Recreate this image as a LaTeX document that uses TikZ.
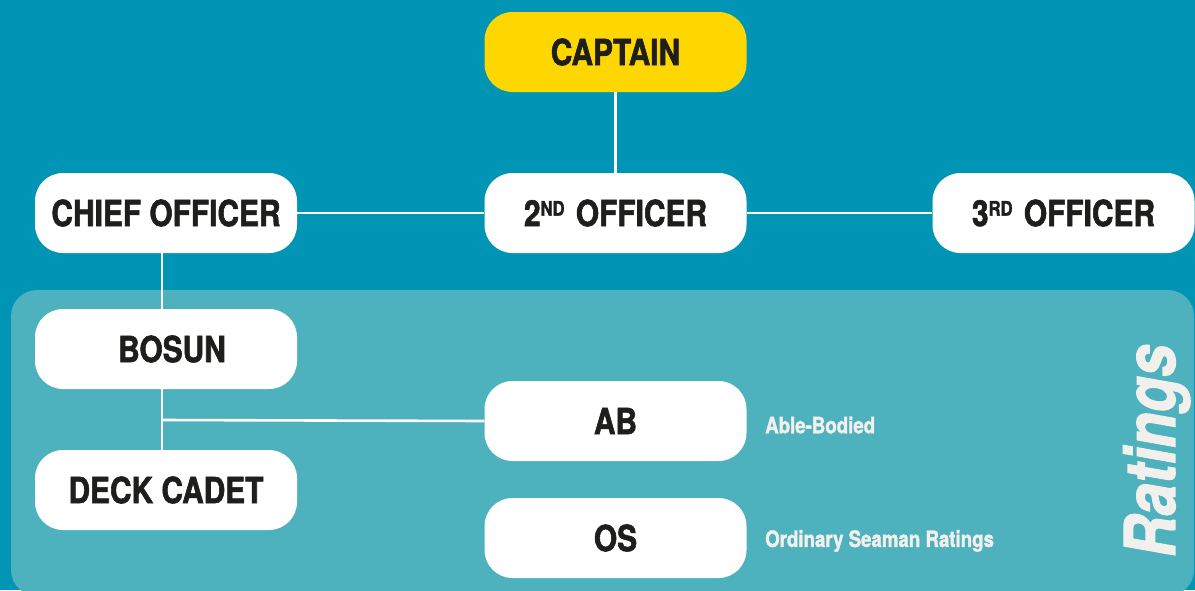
\documentclass[tikz,border=0pt]{standalone}
\usepackage{fontspec}
\setmainfont{TeX Gyre Heros}[FakeStretch=0.83, BoldFeatures={FakeBold=1.6}, BoldItalicFeatures={FakeBold=1.6}]
\definecolor{bgblue}{HTML}{0095B4}
\definecolor{panel}{HTML}{4EB2BE}
\definecolor{capyellow}{HTML}{FFD700}
\definecolor{ink}{HTML}{1E1E1C}
\definecolor{offwhite}{HTML}{F1F0EC}
\newcommand\supr[1]{\raisebox{10.5pt}{\fontsize{20}{20}\selectfont #1}\hspace{3pt}}
\tikzset{
  rolebox/.style={fill=white, rounded corners=28pt, minimum width=262pt, minimum height=80pt,
    inner sep=0pt, text=ink, font=\fontsize{36}{40}\selectfont\bfseries},
  link/.style={draw=white, line width=2.6pt},
  note/.style={anchor=west, text=offwhite, inner sep=0pt, font=\fontsize{22.5}{24}\selectfont\bfseries}
}
\begin{document}
\begin{tikzpicture}[x=1pt,y=-1pt]
\useasboundingbox (0,0) rectangle (1195,590);
\fill[bgblue] (0,0) rectangle (1195,590);
\fill[panel, rounded corners=26pt] (11,290) rectangle (1194,596);
\node[rolebox, fill=capyellow] (captain) at (615.5,52) {CAPTAIN};
\node[rolebox] (chief) at (166,213) {CHIEF OFFICER};
\node[rolebox] (second) at (615.5,213) {2\supr{ND} OFFICER};
\node[rolebox] (third) at (1063.5,213) {3\supr{RD} OFFICER};
\node[rolebox] (bosun) at (166,349) {\hspace{12pt}BOSUN};
\node[rolebox] (cadet) at (166,490) {DECK CADET};
\node[rolebox] (ab) at (615.5,421) {AB};
\node[rolebox] (os) at (615.5,538) {OS};
\node[note] (abnote) at (765,425) {Able-Bodied};
\node[note] (osnote) at (765,541) {Ordinary Seaman Ratings};
\node[rotate=90, anchor=base, inner sep=0pt, text=offwhite, font=\fontsize{70}{80}\selectfont\bfseries\itshape] (ratings) at (1175,451) {Ratings};
\coordinate (j) at (162,420);
\draw[link] (captain.south) -- (second.north);
\draw[link] (chief.east) -- (second.west);
\draw[link] (second.east) -- (third.west);
\draw[link] ([xshift=-4pt]chief.south) -- ([xshift=-4pt]bosun.north);
\draw[link] ([xshift=-4pt]bosun.south) -- ([xshift=-4pt]cadet.north);
\draw[link] (j) -- (ab.west);
\end{tikzpicture}
\end{document}
